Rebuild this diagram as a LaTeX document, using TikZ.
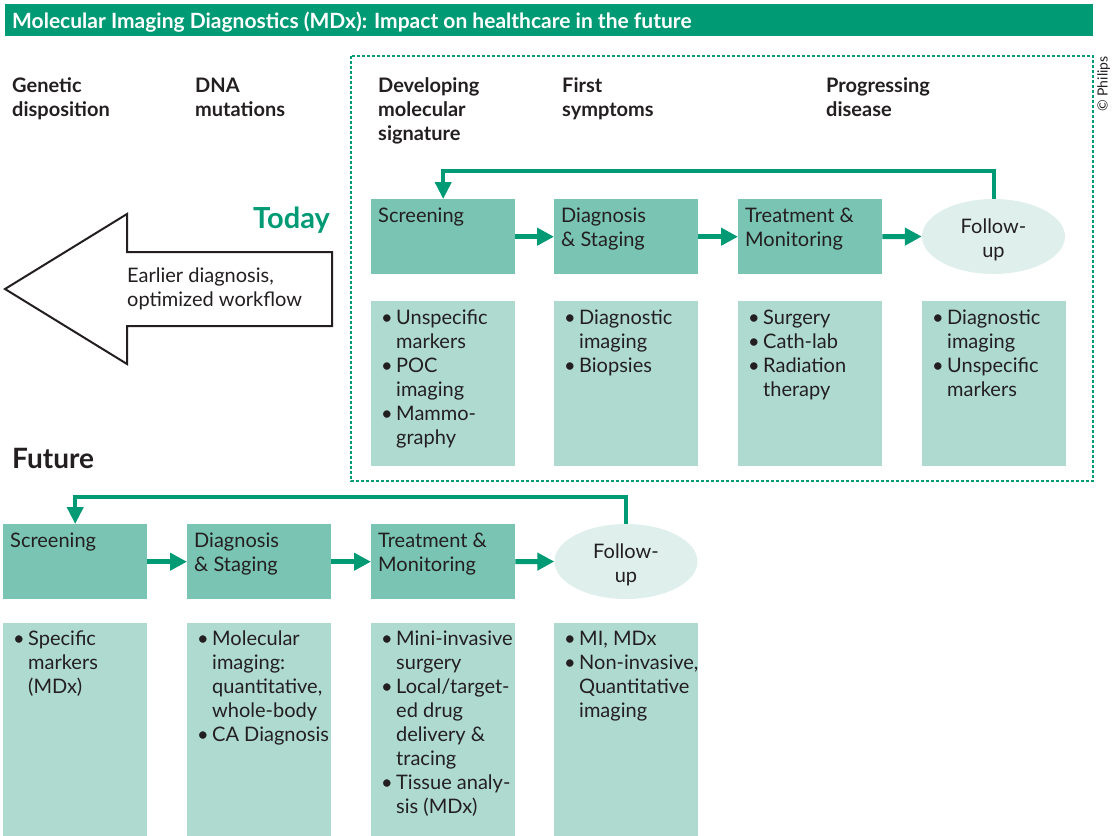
\documentclass[tikz,border=0pt]{standalone}
\usepackage{fontspec}
\setmainfont{Lato}
\usetikzlibrary{arrows.meta,calc,shapes.geometric}
\definecolor{pgreen}{HTML}{009A74}
\definecolor{boxfill}{HTML}{7AC4B3}
\definecolor{lboxfill}{HTML}{AFDAD0}
\definecolor{ellfill}{HTML}{DFF0EC}
\definecolor{ink}{HTML}{231F20}
\newcommand\bu{\makebox[15pt][l]{\textbullet}}
\newcommand\ind{\hspace*{15pt}}
\begin{document}
\begin{tikzpicture}[x=1pt,y=-1pt,
 box/.style={fill=boxfill, draw=none, minimum width=144pt, minimum height=75pt, inner sep=0pt, anchor=north west},
 lbox/.style={fill=lboxfill, draw=none, minimum width=144pt, inner sep=0pt, anchor=north west},
 ell/.style={ellipse, fill=ellfill, minimum width=143pt, minimum height=75pt, inner sep=0pt},
 elltxt/.style={inner sep=0pt, align=center, text=ink, font=\fontsize{20}{24}\selectfont},
 txt/.style={anchor=north west, inner sep=0pt, align=left, text=ink, font=\fontsize{20}{24}\selectfont, execute at begin node=\strut},
 head/.style={txt, font=\fontsize{20}{24}\selectfont\bfseries},
 arr/.style={draw=pgreen, line width=5pt, -{Triangle[length=17pt,width=17pt]}},
 fb/.style={draw=pgreen, line width=4pt, -{Triangle[length=17pt,width=16pt]}},
]
\useasboundingbox (0,0) rectangle (1112,836);
% title bar
\fill[pgreen] (5,4) rectangle (1093,36);
\node[anchor=base west, inner sep=0pt, text=white, font=\fontsize{21}{24}\selectfont\bfseries] (title) at (12,28) {Molecular Imaging Diagnostics (MDx): Impact on healthcare in the future};
% dashed frame
\draw[pgreen, line width=1.2pt, dash pattern=on 3pt off 2pt] (351,56) rectangle (1093,481);
\node[rotate=90, anchor=north, inner sep=0pt, text=ink, font=\fontsize{14}{16}\selectfont] (copy) at (1097,84) {\textcopyright\ Philips};
% headers
\node[head] (h1) at (12,77) {Genetic\\disposition};
\node[head] (h2) at (195,78) {DNA\\mutations};
\node[head] (h3) at (378,77) {Developing\\molecular\\signature};
\node[head] (h4) at (562,77) {First\\symptoms};
\node[head] (h5) at (826,77) {Progressing\\disease};
% big arrow
\draw[ink, line width=2pt, fill=white, line join=miter] (5,289) -- (127,214) -- (127,252) -- (332,252) -- (332,326) -- (127,326) -- (127,364) -- cycle;
\node[txt] (arrtxt) at (127,268) {Earlier diagnosis,\\optimized workflow};
\node[anchor=base east, inner sep=0pt, text=pgreen, font=\fontsize{29}{32}\selectfont\bfseries] (today) at (330,228) {Today};
\node[anchor=base west, inner sep=0pt, text=ink, font=\fontsize{28}{32}\selectfont\bfseries] (future) at (12,468) {Future};
% today row
\node[box] (s1) at (371,199) {};
\node[box] (d1) at (554,199) {};
\node[box] (t1) at (738,199) {};
\node[ell] (f1) at (993.5,236.5) {};
\node[elltxt] (f1t) at ($(f1.center)+(0,3)$) {Follow-\\up};
\node[txt] (s1t) at ($(s1.north west)+(7,6)$) {Screening};
\node[txt] (d1t) at ($(d1.north west)+(7,9)$) {Diagnosis\\\& Staging};
\node[txt] (t1t) at ($(t1.north west)+(7,9)$) {Treatment \&\\Monitoring};
\draw[arr] (s1.east) -- (d1.west);
\draw[arr] (d1.east) -- (t1.west);
\draw[arr] (t1.east) -- (f1.west);
\draw[fb] (f1.north) -- ($(f1.north)+(0,-28)$) -| (s1.north);
% today details
\node[lbox, minimum height=165pt] (ls1) at (371,301) {};
\node[lbox, minimum height=165pt] (ld1) at (554,301) {};
\node[lbox, minimum height=165pt] (lt1) at (738,301) {};
\node[lbox, minimum height=165pt] (lf1) at (922,301) {};
\node[txt] (ls1t) at ($(ls1.north west)+(10,9)$) {\bu Unspecific\\\ind markers\\\bu POC\\\ind imaging\\\bu Mammo-\\\ind graphy};
\node[txt] (ld1t) at ($(ld1.north west)+(10,9)$) {\bu Diagnostic\\\ind imaging\\\bu Biopsies};
\node[txt] (lt1t) at ($(lt1.north west)+(10,9)$) {\bu Surgery\\\bu Cath-lab\\\bu Radiation\\\ind therapy};
\node[txt] (lf1t) at ($(lf1.north west)+(10,9)$) {\bu Diagnostic\\\ind imaging\\\bu Unspecific\\\ind markers};
% future row
\node[box] (s2) at (3,524) {};
\node[box] (d2) at (187,524) {};
\node[box] (t2) at (371,524) {};
\node[ell] (f2) at (626,561.5) {};
\node[elltxt] (f2t) at ($(f2.center)+(0,3)$) {Follow-\\up};
\node[txt] (s2t) at ($(s2.north west)+(7,6)$) {Screening};
\node[txt] (d2t) at ($(d2.north west)+(7,9)$) {Diagnosis\\\& Staging};
\node[txt] (t2t) at ($(t2.north west)+(7,9)$) {Treatment \&\\Monitoring};
\draw[arr] (s2.east) -- (d2.west);
\draw[arr] (d2.east) -- (t2.west);
\draw[arr] (t2.east) -- (f2.west);
\draw[fb] (f2.north) -- ($(f2.north)+(0,-27)$) -| (s2.north);
% future details
\node[lbox, minimum height=213pt] (ls2) at (3,623) {};
\node[lbox, minimum height=213pt] (ld2) at (187,623) {};
\node[lbox, minimum height=213pt] (lt2) at (371,623) {};
\node[lbox, minimum height=213pt] (lf2) at (554,623) {};
\node[txt] (ls2t) at ($(ls2.north west)+(10,8)$) {\bu Specific\\\ind markers\\\ind (MDx)};
\node[txt] (ld2t) at ($(ld2.north west)+(10,8)$) {\bu Molecular\\\ind imaging:\\\ind quantitative,\\\ind whole-body\\\bu CA Diagnosis};
\node[txt] (lt2t) at ($(lt2.north west)+(10,8)$) {\bu Mini-invasive\\\ind surgery\\\bu Local/target-\\\ind ed drug\\\ind delivery \&\\\ind tracing\\\bu Tissue analy-\\\ind sis (MDx)};
\node[txt] (lf2t) at ($(lf2.north west)+(10,8)$) {\bu MI, MDx\\\bu Non-invasive,\\\ind Quantitative\\\ind imaging};
\end{tikzpicture}
\end{document}
